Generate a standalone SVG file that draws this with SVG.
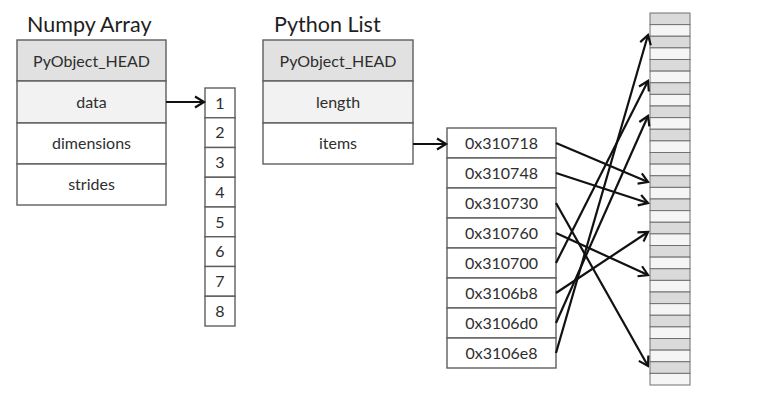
<svg xmlns="http://www.w3.org/2000/svg" width="774" height="400" viewBox="0 0 774 400">
<defs>
<style>
.t{font-family:Lato,"Open Sans","Liberation Sans",sans-serif;fill:#2e2e2e;text-anchor:middle}
.title{font-family:Lato,"Open Sans","Liberation Sans",sans-serif;fill:#1e1e1e;font-size:21.5px}
.lbl{font-size:16px}
.box{stroke:#5e5e5e;stroke-width:1.4}
.head{fill:#e1e1e1}
.light{fill:#f2f2f2}
.white{fill:#ffffff}
.cg{fill:#dadada;stroke:#707070;stroke-width:1}
.cw{fill:#f5f5f5;stroke:#707070;stroke-width:1}
.tiny{font-family:"Liberation Sans",sans-serif;font-size:3.3px;fill:#555;text-anchor:middle}
.arr{stroke:#111;stroke-width:2.2;fill:none;marker-end:url(#ah)}
</style>
<marker id="ah" markerUnits="userSpaceOnUse" markerWidth="16" markerHeight="16" refX="11" refY="7" orient="auto">
<path d="M2,1.5 L11,7 L2,12.5" fill="none" stroke="#111" stroke-width="2.2"/>
</marker>
</defs>
<rect width="774" height="400" fill="#ffffff"/>

<g id="numpy-array">
<text class="title" x="27" y="32">Numpy Array</text>
<rect class="box head" x="17" y="40" width="149" height="41"/>
<rect class="box light" x="17" y="81" width="149" height="42"/>
<rect class="box white" x="17" y="123" width="149" height="41"/>
<rect class="box white" x="17" y="164" width="149" height="41"/>
<text class="t lbl" x="91.5" y="66.5">PyObject_HEAD</text>
<text class="t lbl" x="91.5" y="107.5">data</text>
<text class="t lbl" x="91.5" y="149">dimensions</text>
<text class="t lbl" x="91.5" y="190">strides</text>
</g>

<g id="numpy-data">
<rect class="box white" x="205" y="88" width="30" height="29.75"/>
<rect class="box white" x="205" y="117.75" width="30" height="29.75"/>
<rect class="box white" x="205" y="147.5" width="30" height="29.75"/>
<rect class="box white" x="205" y="177.25" width="30" height="29.75"/>
<rect class="box white" x="205" y="207" width="30" height="29.75"/>
<rect class="box white" x="205" y="236.75" width="30" height="29.75"/>
<rect class="box white" x="205" y="266.5" width="30" height="29.75"/>
<rect class="box white" x="205" y="296.25" width="30" height="29.75"/>
<text class="t lbl" x="220" y="108.5">1</text>
<text class="t lbl" x="220" y="138">2</text>
<text class="t lbl" x="220" y="168">3</text>
<text class="t lbl" x="220" y="198">4</text>
<text class="t lbl" x="220" y="227.5">5</text>
<text class="t lbl" x="220" y="257">6</text>
<text class="t lbl" x="220" y="287">7</text>
<text class="t lbl" x="220" y="317">8</text>
</g>

<g id="python-list">
<text class="title" x="274" y="32">Python List</text>
<rect class="box head" x="263" y="40" width="150" height="41"/>
<rect class="box light" x="263" y="81" width="150" height="42"/>
<rect class="box white" x="263" y="123" width="150" height="41"/>
<text class="t lbl" x="338" y="66.5">PyObject_HEAD</text>
<text class="t lbl" x="338" y="107.5">length</text>
<text class="t lbl" x="338" y="149">items</text>
</g>

<g id="list-items">
<rect class="box white" x="447" y="128" width="109" height="30"/>
<rect class="box white" x="447" y="158" width="109" height="30"/>
<rect class="box white" x="447" y="188" width="109" height="30"/>
<rect class="box white" x="447" y="218" width="109" height="30"/>
<rect class="box white" x="447" y="248" width="109" height="30"/>
<rect class="box white" x="447" y="278" width="109" height="30"/>
<rect class="box white" x="447" y="308" width="109" height="30"/>
<rect class="box white" x="447" y="338" width="109" height="30"/>
<text class="t lbl" x="501.5" y="149">0x310718</text>
<text class="t lbl" x="501.5" y="179">0x310748</text>
<text class="t lbl" x="501.5" y="209">0x310730</text>
<text class="t lbl" x="501.5" y="239">0x310760</text>
<text class="t lbl" x="501.5" y="269">0x310700</text>
<text class="t lbl" x="501.5" y="299">0x3106b8</text>
<text class="t lbl" x="501.5" y="329">0x3106d0</text>
<text class="t lbl" x="501.5" y="359">0x3106e8</text>
</g>

<g id="objects">
<rect class="cg" x="650" y="13" width="40" height="11.625"/><rect class="cw" x="650" y="24.625" width="40" height="11.625"/>
<rect class="cg" x="650" y="36.25" width="40" height="11.625"/><rect class="cw" x="650" y="47.875" width="40" height="11.625"/>
<rect class="cg" x="650" y="59.5" width="40" height="11.625"/><rect class="cw" x="650" y="71.125" width="40" height="11.625"/>
<rect class="cg" x="650" y="82.75" width="40" height="11.625"/><rect class="cw" x="650" y="94.375" width="40" height="11.625"/>
<rect class="cg" x="650" y="106" width="40" height="11.625"/><rect class="cw" x="650" y="117.625" width="40" height="11.625"/>
<rect class="cg" x="650" y="129.25" width="40" height="11.625"/><rect class="cw" x="650" y="140.875" width="40" height="11.625"/>
<rect class="cg" x="650" y="152.5" width="40" height="11.625"/><rect class="cw" x="650" y="164.125" width="40" height="11.625"/>
<rect class="cg" x="650" y="175.75" width="40" height="11.625"/><rect class="cw" x="650" y="187.375" width="40" height="11.625"/>
<rect class="cg" x="650" y="199" width="40" height="11.625"/><rect class="cw" x="650" y="210.625" width="40" height="11.625"/>
<rect class="cg" x="650" y="222.25" width="40" height="11.625"/><rect class="cw" x="650" y="233.875" width="40" height="11.625"/>
<rect class="cg" x="650" y="245.5" width="40" height="11.625"/><rect class="cw" x="650" y="257.125" width="40" height="11.625"/>
<rect class="cg" x="650" y="268.75" width="40" height="11.625"/><rect class="cw" x="650" y="280.375" width="40" height="11.625"/>
<rect class="cg" x="650" y="292" width="40" height="11.625"/><rect class="cw" x="650" y="303.625" width="40" height="11.625"/>
<rect class="cg" x="650" y="315.25" width="40" height="11.625"/><rect class="cw" x="650" y="326.875" width="40" height="11.625"/>
<rect class="cg" x="650" y="338.5" width="40" height="11.625"/><rect class="cw" x="650" y="350.125" width="40" height="11.625"/>
<rect class="cg" x="650" y="361.75" width="40" height="11.625"/><rect class="cw" x="650" y="373.375" width="40" height="11.625"/>
</g>

<g id="connectors">
<line class="arr" x1="166" y1="102" x2="204" y2="102"/>
<line class="arr" x1="413" y1="144" x2="446" y2="144"/>
<line class="arr" x1="556" y1="143" x2="648" y2="182"/>
<line class="arr" x1="556" y1="173" x2="648" y2="203"/>
<line class="arr" x1="556" y1="203" x2="648" y2="366"/>
<line class="arr" x1="556" y1="233" x2="648" y2="275"/>
<line class="arr" x1="556" y1="263" x2="648" y2="81"/>
<line class="arr" x1="556" y1="293" x2="648" y2="232"/>
<line class="arr" x1="556" y1="323" x2="648" y2="116"/>
<line class="arr" x1="556" y1="353" x2="648" y2="35"/>
</g>
</svg>
